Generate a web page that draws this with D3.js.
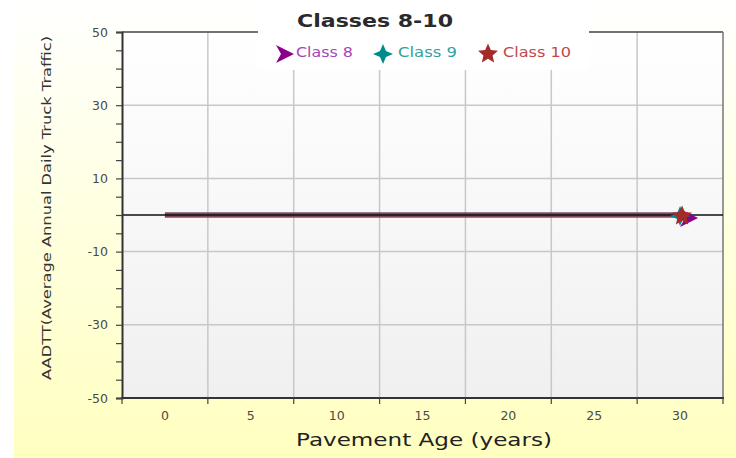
<!DOCTYPE html>
<html>
<head>
<meta charset="utf-8">
<script src="https://cdn.jsdelivr.net/npm/d3@7/dist/d3.min.js"></script>
<style>
  html, body { margin: 0; padding: 0; background: #fff; }
  svg { display: block; }
  text { font-family: "DejaVu Sans", Verdana, sans-serif; }
</style>
</head>
<body>
<svg id="chart" width="736" height="458"></svg>
<script>
// Pavement age categories (years) and AADTT per truck class
const ages = [0, 5, 10, 15, 20, 25, 30];
const class8 = [0, 0, 0, 0, 0, 0, 0];
const class9 = [0, 0, 0, 0, 0, 0, 0];
const class10 = [0, 0, 0, 0, 0, 0, 0];
const seriesNames = ["Class 8", "Class 9", "Class 10"];
const yTickValues = d3.range(-50, 51, 5);
const yLabelValues = [50, 30, 10, -10, -30, -50];

const colors = { "Class 8": "#8b008b", "Class 9": "#008b8b", "Class 10": "#a52a2a" };
const textColors = { "Class 8": "#a448b8", "Class 9": "#36a0a0", "Class 10": "#c04848" };

const W = 736, H = 458;
const m = { left: 122, right: 723, top: 32, bottom: 398 };

const svg = d3.select("#chart");
const defs = svg.append("defs");

const bgGrad = defs.append("linearGradient").attr("id", "bgGrad")
  .attr("x1", 0).attr("y1", 0).attr("x2", 0).attr("y2", 1);
bgGrad.append("stop").attr("offset", "0%").attr("stop-color", "#ffffff");
bgGrad.append("stop").attr("offset", "100%").attr("stop-color", "#ffffc0");

const plotGrad = defs.append("linearGradient").attr("id", "plotGrad")
  .attr("x1", 0).attr("y1", 0).attr("x2", 0).attr("y2", 1);
plotGrad.append("stop").attr("offset", "0%").attr("stop-color", "#ffffff");
plotGrad.append("stop").attr("offset", "100%").attr("stop-color", "#f0f0f0");

// page background
svg.append("rect").attr("x", 14).attr("y", 0).attr("width", W - 14).attr("height", H)
  .attr("fill", "url(#bgGrad)");

const x = d3.scaleBand().domain(ages).range([m.left, m.right]).padding(0);
const y = d3.scaleLinear().domain([-50, 50]).range([m.bottom, m.top]);
const xc = d => x(d) + x.bandwidth() / 2;

// plot area
svg.append("rect").attr("x", m.left).attr("y", m.top)
  .attr("width", m.right - m.left).attr("height", m.bottom - m.top)
  .attr("fill", "url(#plotGrad)");

// grid
const grid = svg.append("g").attr("stroke", "#c8c8c8").attr("stroke-width", 1.5);
ages.slice(1).forEach(a => {
  grid.append("line").attr("x1", x(a)).attr("x2", x(a))
    .attr("y1", m.top).attr("y2", m.bottom);
});
yLabelValues.filter(v => v > -50 && v < 50).forEach(v => {
  grid.append("line").attr("x1", m.left).attr("x2", m.right)
    .attr("y1", y(v)).attr("y2", y(v));
});

// frame: top and right borders
svg.append("line").attr("x1", m.left).attr("x2", m.right).attr("y1", m.top).attr("y2", m.top)
  .attr("stroke", "#444").attr("stroke-width", 1.5);
svg.append("line").attr("x1", m.right).attr("x2", m.right).attr("y1", m.top).attr("y2", m.bottom)
  .attr("stroke", "#777").attr("stroke-width", 1.5);

// series lines
const seriesData = [class8, class9, class10];
const line = d3.line().x((d, i) => xc(ages[i])).y(d => y(d));
seriesData.forEach((vals, k) => {
  svg.append("path").datum(vals).attr("d", line)
    .attr("fill", "none").attr("stroke", colors[seriesNames[k]])
    .attr("stroke-width", 5).attr("stroke-opacity", 0.6);
});

// zero line
svg.append("line").attr("x1", m.left).attr("x2", m.right).attr("y1", y(0)).attr("y2", y(0))
  .attr("stroke", "#111").attr("stroke-width", 1.5);

// marker shapes
const arrowPath = "M10,0 L-8,-9 L-3,0 L-8,9 Z";
function starPath(points, outer, inner) {
  const p = [];
  for (let i = 0; i < points * 2; i++) {
    const r = i % 2 === 0 ? outer : inner;
    const a = -Math.PI / 2 + i * Math.PI / points;
    p.push([r * Math.cos(a), r * Math.sin(a)]);
  }
  return "M" + p.map(q => q.join(",")).join("L") + "Z";
}
const shapes = {
  "Class 8": arrowPath,
  "Class 9": starPath(4, 10, 4.2),
  "Class 10": starPath(5, 10.5, 4.8)
};

// end-point markers
const lastIdx = ages.length - 1;
seriesData.forEach((vals, k) => {
  const name = seriesNames[k];
  const dx = name === "Class 8" ? 8 : (name === "Class 10" ? 2 : 0);
  const dy = name === "Class 8" ? 3 : 1;
  svg.append("path").attr("d", shapes[name])
    .attr("transform", `translate(${xc(ages[lastIdx]) + dx},${y(vals[lastIdx]) + dy})`)
    .attr("fill", colors[name]);
});

// y axis
const yAxis = d3.axisLeft(y).tickValues(yTickValues).tickSize(6).tickPadding(8)
  .tickFormat(d => yLabelValues.includes(d) ? String(d) : "");
const gy = svg.append("g").attr("transform", `translate(${m.left},0)`).call(yAxis);
gy.select(".domain").attr("stroke", "#333").attr("stroke-width", 2);
gy.selectAll(".tick line").attr("stroke", "#444").attr("stroke-width", 1.2);
gy.selectAll(".tick text").attr("fill", "#4a4a4a").attr("font-size", 12.5)
  .attr("font-family", "DejaVu Sans, Verdana, sans-serif");

// x axis: ticks on band edges, labels centred in bands
const gx = svg.append("g").attr("transform", `translate(0,${m.bottom})`);
gx.append("line").attr("x1", m.left - 1).attr("x2", m.right + 1).attr("y1", 0).attr("y2", 0)
  .attr("stroke", "#333").attr("stroke-width", 2);
ages.concat([null]).forEach(a => {
  const px = a === null ? m.right : x(a);
  gx.append("line").attr("x1", px).attr("x2", px).attr("y1", 0).attr("y2", 6)
    .attr("stroke", "#444").attr("stroke-width", 1.2);
});
const xAxis = d3.axisBottom(x).tickSize(0).tickPadding(13);
const gxl = svg.append("g").attr("transform", `translate(0,${m.bottom})`).call(xAxis);
gxl.select(".domain").remove();
gxl.selectAll(".tick text").attr("fill", "#4a4a4a").attr("font-size", 12.5)
  .attr("font-family", "DejaVu Sans, Verdana, sans-serif");

// axis titles
svg.append("text").attr("x", 424).attr("y", 446).attr("text-anchor", "middle")
  .attr("font-size", 18).attr("fill", "#222")
  .attr("textLength", 256).attr("lengthAdjust", "spacingAndGlyphs")
  .text("Pavement Age (years)");
svg.append("text").attr("transform", "translate(51,208) rotate(-90)")
  .attr("text-anchor", "middle").attr("font-size", 12.5).attr("fill", "#333")
  .attr("textLength", 344).attr("lengthAdjust", "spacingAndGlyphs")
  .text("AADTT(Average Annual Daily Truck Traffic)");

// title and legend panel
svg.append("rect").attr("x", 258).attr("y", 0).attr("width", 331).attr("height", 70)
  .attr("fill", "#ffffff");
svg.append("text").attr("x", 375).attr("y", 27).attr("text-anchor", "middle")
  .attr("font-size", 17).attr("font-weight", "bold").attr("fill", "#2a2a2a")
  .attr("textLength", 156).attr("lengthAdjust", "spacingAndGlyphs")
  .text("Classes 8-10");

const legendItems = [
  { name: "Class 8", mx: 284, tx: 296, tw: 57 },
  { name: "Class 9", mx: 383, tx: 398, tw: 59 },
  { name: "Class 10", mx: 488, tx: 503, tw: 68 }
];
const lg = svg.append("g");
legendItems.forEach(it => {
  lg.append("path").attr("d", shapes[it.name])
    .attr("transform", `translate(${it.mx},54)`).attr("fill", colors[it.name]);
  lg.append("text").attr("x", it.tx).attr("y", 57).attr("font-size", 14)
    .attr("fill", textColors[it.name])
    .attr("textLength", it.tw).attr("lengthAdjust", "spacingAndGlyphs")
    .text(it.name);
});
</script>
</body>
</html>
